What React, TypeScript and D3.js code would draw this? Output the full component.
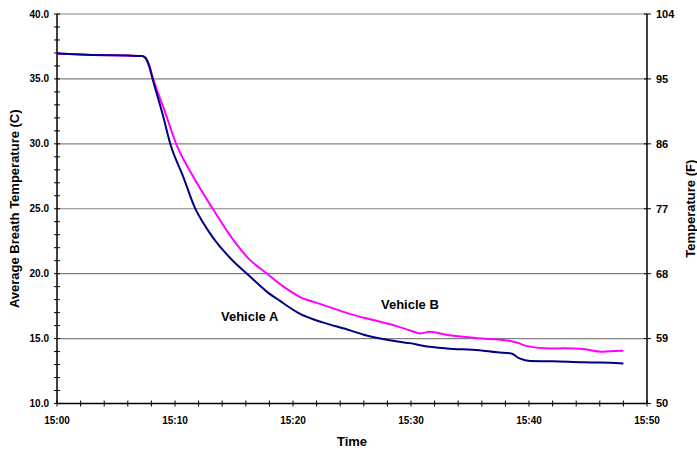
import React from "react";
import * as d3 from "d3";

// Minutes after 15:00 and average breath temperature (°C)
const minutesA = [0, 3, 6, 7.2, 7.5, 7.8, 8.1, 9.0, 9.6, 10.7, 11.7, 12.4, 13.2, 14.9, 16.1, 17.8, 18.9, 20.6, 22.5, 24.6, 26.0, 27.4, 29.0, 29.9, 31.0, 33.0, 35.8, 37.3, 38.5, 39.2, 40.1, 42.0, 44.6, 46.0, 48.0];
const tempA = [36.95, 36.85, 36.8, 36.77, 36.6, 36.0, 35.0, 32.1, 30.0, 27.46, 25.05, 23.9, 22.8, 21.0, 20.0, 18.6, 17.9, 16.9, 16.25, 15.7, 15.3, 15.0, 14.75, 14.65, 14.45, 14.24, 14.1, 13.94, 13.85, 13.47, 13.27, 13.25, 13.17, 13.15, 13.09];

const minutesB = [0, 3, 6, 7.2, 7.5, 7.8, 8.15, 9.1, 10.1, 11.55, 13.2, 14.94, 16.3, 17.8, 19.2, 20.6, 22.0, 23.4, 24.8, 26.2, 27.4, 28.8, 30.0, 30.8, 31.6, 33.0, 34.4, 36.0, 37.3, 38.5, 39.2, 39.8, 41.8, 43.0, 44.6, 46.3, 47.2, 48.0];
const tempB = [36.95, 36.85, 36.8, 36.77, 36.65, 36.1, 35.0, 32.6, 30.0, 27.46, 25.0, 22.6, 21.1, 20.0, 19.0, 18.2, 17.75, 17.33, 16.9, 16.56, 16.3, 15.96, 15.6, 15.4, 15.52, 15.3, 15.14, 15.0, 14.94, 14.8, 14.63, 14.42, 14.24, 14.25, 14.19, 13.98, 14.05, 14.06];

const celsiusTicks = [10, 15, 20, 25, 30, 35, 40];
const fahrenheitTicks = [50, 59, 68, 77, 86, 95, 104];
const timeTickMinutes = [0, 10, 20, 30, 40, 50];

const W = 697;
const H = 452;
const left = 57;
const right = 647;
const top = 14;
const bottom = 403.5;
const font = "'Liberation Sans', Arial, sans-serif";

const base = new Date(2000, 0, 1, 15, 0, 0);
const toDate = (m: number) => new Date(base.getTime() + m * 60000);

export default function App() {
  const x = d3.scaleTime().domain([toDate(0), toDate(50)]).range([left, right]);
  const yC = d3.scaleLinear().domain([10, 40]).range([bottom, top]);
  const yF = d3.scaleLinear().domain([50, 104]).range([bottom, top]);
  const fmt = d3.timeFormat("%H:%M");

  const line = d3
    .line<[number, number]>()
    .x((d) => x(toDate(d[0])))
    .y((d) => yC(d[1]))
    .curve(d3.curveMonotoneX);

  const seriesA = minutesA.map((m, i) => [m, tempA[i]] as [number, number]);
  const seriesB = minutesB.map((m, i) => [m, tempB[i]] as [number, number]);

  const minorC = d3.range(10, 40.01, 1);
  const minorT = d3.range(0, 50.01, 2);

  return (
    <svg width={W} height={H} style={{ position: "absolute", left: 0, top: 0 }}>
      <rect width={W} height={H} fill="#fff" />
      {/* horizontal gridlines */}
      {celsiusTicks.filter((t) => t > 10).map((t) => (
        <line key={"g" + t} x1={left} x2={right} y1={yC(t)} y2={yC(t)} stroke="#808080" strokeWidth={1.2} />
      ))}
      {/* axes */}
      <line x1={left} x2={left} y1={top} y2={bottom} stroke="#000" strokeWidth={1.5} />
      <line x1={right} x2={right} y1={top} y2={bottom} stroke="#000" strokeWidth={1.5} />
      <line x1={left} x2={right} y1={bottom} y2={bottom} stroke="#000" strokeWidth={1.5} />
      {/* left ticks */}
      {minorC.map((t) => (
        <line key={"lc" + t} x1={left - 3} x2={left + 3} y1={yC(t)} y2={yC(t)} stroke="#000" strokeWidth={1} />
      ))}
      {celsiusTicks.map((t) => (
        <text key={"lt" + t} x={left - 8} y={yC(t)} dy="0.35em" textAnchor="end" fontFamily={font} fontWeight="bold" fontSize={10} fill="#000">
          {t.toFixed(1)}
        </text>
      ))}
      {/* right ticks */}
      {fahrenheitTicks.map((t) => (
        <g key={"rf" + t}>
          <line x1={right - 3} x2={right + 4} y1={yF(t)} y2={yF(t)} stroke="#000" strokeWidth={1} />
          <text x={right + 9} y={yF(t)} dy="0.35em" textAnchor="start" fontFamily={font} fontWeight="bold" fontSize={11} fill="#000">
            {t}
          </text>
        </g>
      ))}
      {/* bottom ticks */}
      {minorT.map((m) => (
        <line key={"bt" + m} x1={x(toDate(m))} x2={x(toDate(m))} y1={bottom - 3} y2={bottom + 3} stroke="#000" strokeWidth={1} />
      ))}
      {timeTickMinutes.map((m) => (
        <text key={"bl" + m} x={x(toDate(m))} y={bottom + 20} textAnchor="middle" fontFamily={font} fontWeight="bold" fontSize={10} fill="#000">
          {fmt(toDate(m))}
        </text>
      ))}
      {/* series */}
      <path d={line(seriesB) || ""} fill="none" stroke="#FF00FF" strokeWidth={2} strokeLinejoin="round" />
      <path d={line(seriesA) || ""} fill="none" stroke="#000080" strokeWidth={2} strokeLinejoin="round" />
      {/* series labels */}
      <text x={221} y={321} fontFamily={font} fontWeight="bold" fontSize={13} fill="#000">Vehicle A</text>
      <text x={381} y={309} fontFamily={font} fontWeight="bold" fontSize={13} fill="#000">Vehicle B</text>
      {/* axis titles */}
      <text x={(left + right) / 2} y={446} textAnchor="middle" fontFamily={font} fontWeight="bold" fontSize={13} fill="#000">Time</text>
      <text transform={`translate(19,${(top + bottom) / 2}) rotate(-90)`} textAnchor="middle" fontFamily={font} fontWeight="bold" fontSize={13} fill="#000">
        Average Breath Temperature (C)
      </text>
      <text transform={`translate(695,${(top + bottom) / 2}) rotate(-90)`} textAnchor="middle" fontFamily={font} fontWeight="bold" fontSize={13} fill="#000">
        Temperature (F)
      </text>
    </svg>
  );
}
